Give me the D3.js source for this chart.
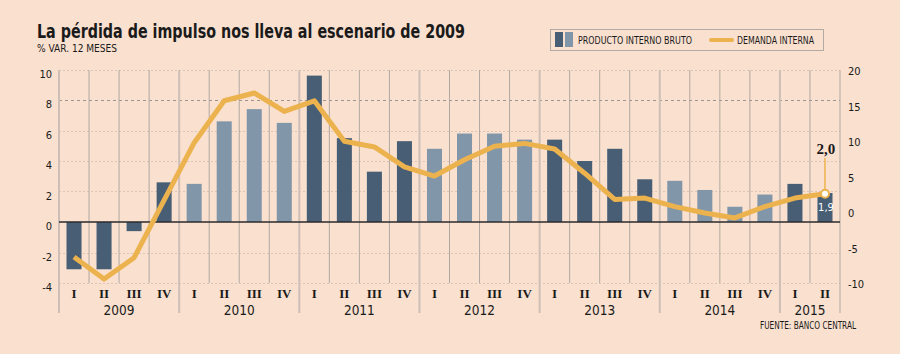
<!DOCTYPE html>
<html>
<head>
<meta charset="utf-8">
<script src="https://cdn.jsdelivr.net/npm/d3@7"></script>
<style>
body {margin:0; background:#f9e0cf;}
text {font-family:"DejaVu Sans Condensed","DejaVu Sans",sans-serif; fill:#1a1a1a;}
.title {font-size:19px; font-weight:bold;}
.sub {font-size:10px;}
.tick {font-size:11px;}
.quarter {font-family:"Liberation Serif",serif; font-size:13px; font-weight:bold;}
.year {font-size:13.5px;}
.legend {font-size:10px;}
</style>
</head>
<body>
<svg id="chart"></svg>
<script>
var years = ["2009","2010","2011","2012","2013","2014","2015"]
var quarters = ["I","II","III","IV"]
// PIB, % var. 12 meses (eje izquierdo)
var pib = [-3.1,-3.1,-0.6,2.6, 2.5,6.6,7.4,6.5, 9.6,5.5,3.3,5.3, 4.8,5.8,5.8,5.4,
           5.4,4.0,4.8,2.8, 2.7,2.1,1.0,1.8, 2.5,1.9]
// Demanda interna (eje derecho)
var demanda = [-6.9,-10.0,-7.0,1.1, 9.2,15.1,16.2,13.6, 15.1,9.4,8.6,5.8, 4.5,6.8,8.7,9.1,
               8.3,4.9,1.2,1.4, 0.2,-0.7,-1.4,0.2, 1.4,2.0]
var leftTicks = [-4,-2,0,2,4,6,8,10]
var rightTicks = [-10,-5,0,5,10,15,20]
var lastPib = "1,9"
var lastDemanda = "2,0"

var screen = {width:900, height:354}
var margins = {top:70, left:59, right:60}

var rows = pib.map(function(v,i){
    return {id:i, year:years[Math.floor(i/4)], q:quarters[i%4], pib:v, dem:demanda[i], yi:Math.floor(i/4)}
})

var svg = d3.select("#chart")
    .attr("width", screen.width)
    .attr("height", screen.height)

var xScale = d3.scaleBand()
    .domain(rows.map(function(d){return d.id}))
    .range([margins.left, screen.width - margins.right])
    .paddingInner(0.5).paddingOuter(0.25)
var bw = xScale.step()
var yScaleL = d3.scaleLinear().domain([-4,10]).range([283,69.5])
var yScaleR = d3.scaleLinear().domain([-10,20]).range([279,66])
var x0 = margins.left, x1 = screen.width - margins.right

var colorYear = function(d){ return d.yi % 2 == 0 ? "#475e75" : "#8196a9" }

// titulos
svg.append("text").classed("title", true).attr("x",37).attr("y",38)
    .attr("textLength",428).attr("lengthAdjust","spacingAndGlyphs")
    .text("La pérdida de impulso nos lleva al escenario de 2009")
svg.append("text").classed("sub", true).attr("x",37).attr("y",52)
    .attr("textLength",80).attr("lengthAdjust","spacingAndGlyphs")
    .text("% VAR. 12 MESES")

// leyenda
var leg = svg.append("g")
leg.append("rect").attr("x",550.5).attr("y",29.5).attr("width",273).attr("height",21)
    .attr("fill","none").attr("stroke","#b3aaa3")
leg.append("rect").attr("x",555).attr("y",32).attr("width",8).attr("height",15).attr("fill","#475e75")
leg.append("rect").attr("x",565).attr("y",32).attr("width",8).attr("height",15).attr("fill","#8196a9")
leg.append("text").classed("legend", true).attr("x",578).attr("y",44)
    .attr("textLength",114).attr("lengthAdjust","spacingAndGlyphs")
    .text("PRODUCTO INTERNO BRUTO")
leg.append("line").attr("x1",711).attr("x2",732).attr("y1",40).attr("y2",40)
    .attr("stroke","#ecb24e").attr("stroke-width",4).attr("stroke-linecap","round")
leg.append("text").classed("legend", true).attr("x",737).attr("y",44)
    .attr("textLength",77).attr("lengthAdjust","spacingAndGlyphs")
    .text("DEMANDA INTERNA")

// grilla horizontal
var grid = svg.append("g")
grid.selectAll("line.h").data(leftTicks.filter(function(t){return t!=0}))
    .enter().append("line")
    .attr("x1",x0).attr("x2",x1)
    .attr("y1",function(t){return Math.round(yScaleL(t))+0.5})
    .attr("y2",function(t){return Math.round(yScaleL(t))+0.5})
    .attr("stroke",function(t){return t==8 ? "#9c948e" : "#dcc5b7"})
    .attr("stroke-dasharray",function(t){return t==8 ? "3,3" : "2,2"})

// grilla vertical (trimestres)
var bounds = d3.range(rows.length+1)
grid.selectAll("line.v").data(bounds).enter().append("line")
    .attr("x1",function(i){return x0 + i*bw})
    .attr("x2",function(i){return x0 + i*bw})
    .attr("y1",70)
    .attr("y2",function(i){return (i%4==0 || i==rows.length) ? 313 : 283})
    .attr("stroke",function(i){return (i%4==0) ? "#cdbfb5" : "#b2a8a1"})
    .attr("stroke-width",function(i){return (i%4==0) ? 2 : 1})

// barras
svg.append("g").selectAll("rect").data(rows).enter().append("rect")
    .attr("x",function(d){return xScale(d.id)})
    .attr("width",xScale.bandwidth())
    .attr("y",function(d){return Math.min(yScaleL(d.pib), yScaleL(0))})
    .attr("height",function(d){return Math.abs(yScaleL(d.pib)-yScaleL(0))})
    .attr("fill",colorYear)

// linea cero
svg.append("line").attr("x1",x0).attr("x2",x1)
    .attr("y1",yScaleL(0)).attr("y2",yScaleL(0))
    .attr("stroke","#2a2a2a").attr("stroke-width",1.5)

// demanda interna
var cx = function(d){return xScale(d.id) + xScale.bandwidth()/2}
var lineGen = d3.line()
    .x(cx)
    .y(function(d){return yScaleR(d.dem)})
svg.append("path").datum(rows).attr("d",lineGen)
    .attr("fill","none").attr("stroke","#ecb24e").attr("stroke-width",5)
    .attr("stroke-linejoin","round")

// anotacion ultimo dato
var last = rows[rows.length-1]
svg.append("line").attr("x1",cx(last)).attr("x2",cx(last))
    .attr("y1",yScaleR(last.dem)).attr("y2",158)
    .attr("stroke","#ecb24e").attr("stroke-width",1.5)
svg.append("circle").attr("cx",cx(last)).attr("cy",yScaleR(last.dem)).attr("r",4)
    .attr("fill","#fff").attr("stroke","#ecb24e").attr("stroke-width",2)
svg.append("text").attr("x",cx(last)+1).attr("y",154).attr("text-anchor","middle")
    .style("font-family","Liberation Serif, serif").style("font-size","15px").style("font-weight","bold")
    .text(lastDemanda)
svg.append("text").attr("x",cx(last)+1).attr("y",211).attr("text-anchor","middle")
    .style("font-size","11px").style("fill","#fff")
    .text(lastPib)

// ejes
var axes = svg.append("g")
axes.selectAll("text.l").data(leftTicks).enter().append("text").classed("tick", true)
    .attr("x",52).attr("y",function(t){return yScaleL(t)+8}).attr("text-anchor","end")
    .text(function(t){return t})
axes.selectAll("text.r").data(rightTicks).enter().append("text").classed("tick", true)
    .attr("x",848).attr("y",function(t){return yScaleR(t)+9})
    .text(function(t){return t})

// eje x
axes.selectAll("text.q").data(rows).enter().append("text").classed("quarter", true)
    .attr("x",cx).attr("y",298).attr("text-anchor","middle")
    .text(function(d){return d.q})
axes.selectAll("text.y").data(years).enter().append("text").classed("year", true)
    .attr("x",function(y,i){
        var n = rows.filter(function(d){return d.yi==i}).length
        return x0 + (i*4 + n/2)*bw
    })
    .attr("y",315).attr("text-anchor","middle")
    .text(function(y){return y})

svg.append("text").classed("legend", true).attr("x",760).attr("y",329)
    .attr("textLength",96).attr("lengthAdjust","spacingAndGlyphs")
    .text("FUENTE: BANCO CENTRAL")
</script>
</body>
</html>
